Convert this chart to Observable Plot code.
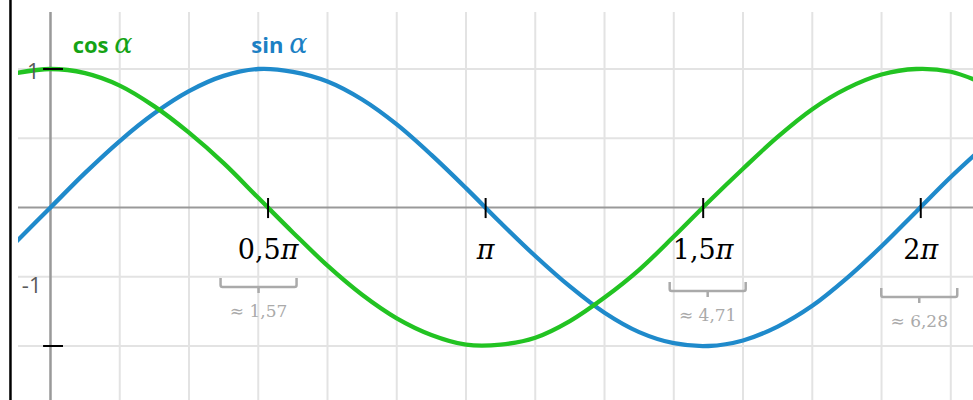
<!DOCTYPE html>
<html><head><meta charset="utf-8">
<script src="https://cdn.jsdelivr.net/npm/d3@7"></script>
<script src="https://cdn.jsdelivr.net/npm/@observablehq/plot@0.6"></script>
<style>body{margin:0;background:#fff}</style>
</head><body><div id="chart"></div>
<script>
// ---- data ----
const alphaValues = [-0.25,0,0.25,0.5,0.75,1,1.25,1.5,1.75,2,2.25,2.5,2.75,3,3.25,3.5,3.75,4,4.25,4.5,4.75,5,5.25,5.5,5.75,6,6.25,6.5,6.75];
const sinValues = [-0.25,0,0.25,0.48,0.68,0.84,0.95,1.0,0.98,0.91,0.78,0.6,0.38,0.14,-0.11,-0.35,-0.57,-0.76,-0.9,-0.98,-1.0,-0.96,-0.86,-0.71,-0.51,-0.28,-0.03,0.22,0.45];
const cosValues = [0.97,1.0,0.97,0.88,0.73,0.54,0.32,0.07,-0.18,-0.42,-0.63,-0.8,-0.92,-0.99,-0.99,-0.94,-0.82,-0.65,-0.45,-0.21,0.04,0.28,0.51,0.71,0.86,0.96,1.0,0.98,0.89];
const xTickValues = [0.5*Math.PI, Math.PI, 1.5*Math.PI, 2*Math.PI];
const xTickLabels = ["0,5π", "π", "1,5π", "2π"];
const approxLabels = ["≈ 1,57", "", "≈ 4,71", "≈ 6,28"];
const yTickValues = [1, -1];
const yTickLabels = ["1", "-1"];
const gridXValues = [0.5,1,1.5,2,2.5,3,3.5,4,4.5,5,5.5,6,6.5];
const gridYValues = [-1,-0.5,0.5,1];
const seriesLabels = ["cos α", "sin α"];

// ---- layout (not data) ----
const green = "#22c322", greenText = "#15a315";
const blue = "#1f8acb", blueText = "#1c80c4";
const legendX = [0.16, 1.45], legendY = 1.165;
const bracketDx = [-9, 0, 5, -1], bracketDy = [71, 0, 75, 81];
const yLabelDy = [3, -60], yLabelDx = [-11, -9];

const rows = alphaValues.map((a, i) => ({a, s: sinValues[i], c: cosValues[i]}));
const xt = xTickValues.map((v, i) => ({v, label: xTickLabels[i], approx: approxLabels[i]}));
const yt = yTickValues.map((v, i) => ({v, label: yTickLabels[i], i}));
const legend = seriesLabels.map((label, i) => ({label, x: legendX[i], color: i === 0 ? greenText : blueText}));

const plot = Plot.plot({
  width: 973, height: 400,
  marginLeft: 18, marginTop: 12, marginRight: 0, marginBottom: 0,
  x: {domain: [-0.231, 6.664], axis: null},
  y: {domain: [-1.3935, 1.4079], axis: null},
  style: {background: "white", overflow: "visible"},
  marks: [
    Plot.ruleX(gridXValues, {stroke: "#e3e3e3", strokeWidth: 2}),
    Plot.ruleY(gridYValues, {stroke: "#e3e3e3", strokeWidth: 2}),
    Plot.ruleX([0], {stroke: "#999", strokeWidth: 2.5}),
    Plot.ruleY([0], {stroke: "#999", strokeWidth: 2}),
    Plot.ruleX([-0.289], {y1: 1.5, y2: -1.3935, stroke: "black", strokeWidth: 2.5}),
    Plot.line(rows, {x: "a", y: "s", curve: "catmull-rom", stroke: blue, strokeWidth: 4.3, clip: true}),
    Plot.line(rows, {x: "a", y: "c", curve: "catmull-rom", stroke: green, strokeWidth: 4.3, clip: true}),
    Plot.ruleX(xt, {x: "v", y1: 0.065, y2: -0.08, stroke: "black", strokeWidth: 2}),
    Plot.ruleY(yt, {y: "v", x1: -0.05, x2: 0.094, stroke: "black", strokeWidth: 2}),
    Plot.text(xt, {x: "v", y: 0, text: "label", dy: 43, fontFamily: "DejaVu Serif", fontSize: 27, fill: "black", textAnchor: "middle", lineAnchor: "middle"}),
    Plot.text(yt.filter(d => d.i === 0), {x: 0, y: "v", text: "label", dx: yLabelDx[0], dy: yLabelDy[0], fontFamily: "Open Sans", fontSize: 22, fill: "#5a5a5a", textAnchor: "end", lineAnchor: "middle"}),
    Plot.text(yt.filter(d => d.i === 1), {x: 0, y: "v", text: "label", dx: yLabelDx[1], dy: yLabelDy[1], fontFamily: "Open Sans", fontSize: 22, fill: "#5a5a5a", textAnchor: "end", lineAnchor: "middle"}),
    Plot.text(legend, {x: "x", y: legendY, text: "label", fill: "color", fontFamily: "Open Sans", fontWeight: "bold", fontSize: 22, textAnchor: "start", lineAnchor: "middle"})
  ]
});
document.getElementById("chart").append(plot);

const svg = d3.select(plot);
const sx = plot.scale("x"), sy = plot.scale("y");

// italic pi / serif italic alpha
svg.selectAll("text").each(function() {
  const t = d3.select(this), s = t.text();
  if (!/[πα]/.test(s)) return;
  t.text("");
  s.split(/([πα])/).filter(p => p).forEach(p => {
    const ts = t.append("tspan").text(p);
    if (p === "π") ts.style("font-style", "italic");
    if (p === "α") ts.style("font-style", "italic").style("font-family", "'DejaVu Serif', serif").style("font-weight", "normal").style("font-size", "27px");
  });
});

// brackets with approximate values
const g = svg.append("g").attr("aria-label", "approx");
xt.forEach((d, i) => {
  if (!d.approx) return;
  const cx = sx.apply(d.v) + bracketDx[i];
  const ty = sy.apply(0) + bracketDy[i];
  const hw = 38, h = 9;
  g.append("path")
    .attr("d", `M${cx-hw},${ty} L${cx-hw},${ty+h-2} Q${cx-hw},${ty+h} ${cx-hw+2},${ty+h} L${cx+hw-2},${ty+h} Q${cx+hw},${ty+h} ${cx+hw},${ty+h-2} L${cx+hw},${ty} M${cx},${ty+h} L${cx},${ty+h+6}`)
    .attr("fill", "none").attr("stroke", "#aaa").attr("stroke-width", 2.5);
  g.append("text").attr("x", cx).attr("y", ty + 33).attr("dy", "0.35em")
    .attr("text-anchor", "middle").attr("font-family", "DejaVu Serif").attr("font-size", 17).attr("fill", "#aaa")
    .text(d.approx);
});
</script>
</body></html>
